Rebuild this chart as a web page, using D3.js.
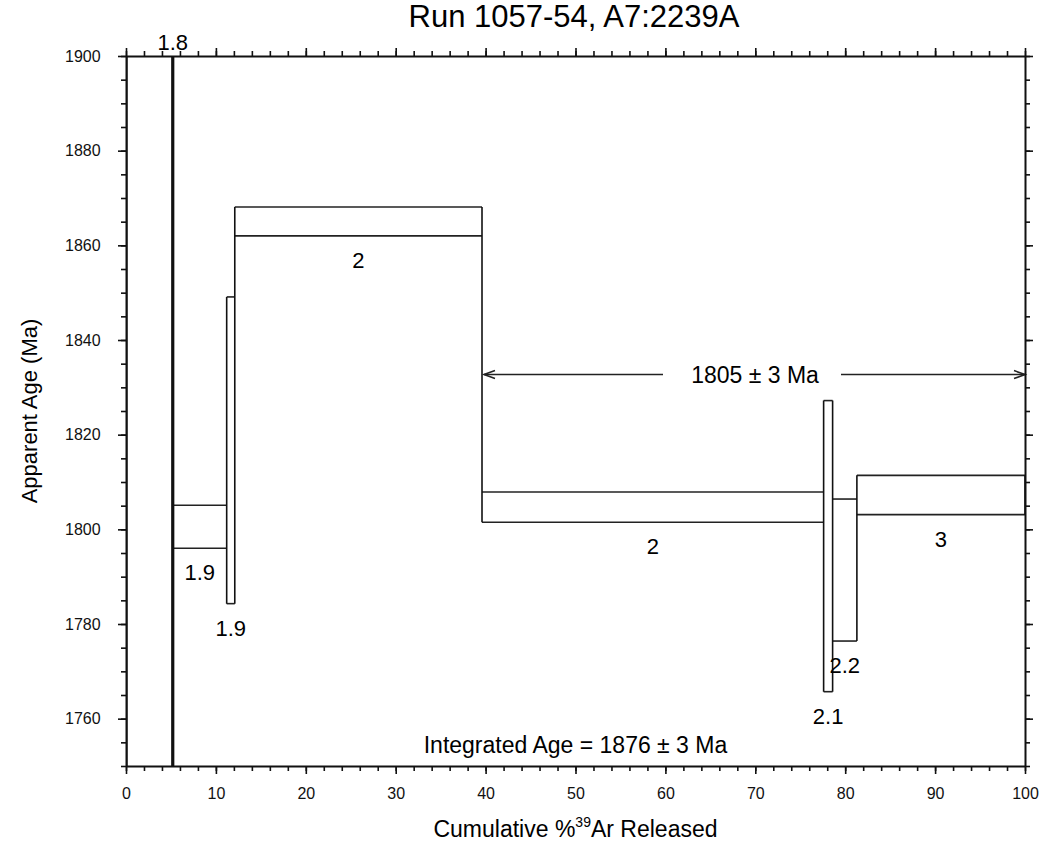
<!DOCTYPE html>
<html>
<head>
<meta charset="utf-8">
<script src="https://cdn.jsdelivr.net/npm/d3@7"></script>
<style>
  body { margin: 0; background: #fff; }
  svg { font-family: "Liberation Sans", Arial, Helvetica, sans-serif; }
  .axis path, .axis line { stroke: #111; }
  .axis text { font-size: 16px; fill: #111; }
</style>
</head>
<body>
<div id="chart-area"></div>
<script>
// step heating spectrum: cumulative % 39Ar at each step boundary
const stepEdges = [0, 5.2, 11.2, 12.1, 39.6, 77.6, 78.6, 81.3, 100]
// apparent age envelope of each step (Ma); the first step is off scale
const ageLow = [1700, 1796.0, 1784.3, 1862.0, 1801.5, 1765.7, 1776.4, 1803.1]
const ageHigh = [1950, 1805.1, 1849.1, 1868.1, 1807.9, 1827.2, 1806.4, 1811.4]
const stepLabels = ["1.8", "1.9", "1.9", "2", "2", "2.1", "2.2", "3"]

// plateau
const plateauFrom = 39.6
const plateauTo = 100
const plateauArrowAge = 1832.7
const plateauText = "1805 ± 3 Ma"
const integratedText = "Integrated Age = 1876 ± 3 Ma"

// ticks
const xMajor = d3.range(0, 101, 10)
const xMinor = d3.range(0, 101, 2)
const yMajor = d3.range(1760, 1901, 20)
const yMinor = d3.range(1750, 1901, 5)

const MARGIN = { LEFT: 126, RIGHT: 17, TOP: 56, BOTTOM: 79 }
const WIDTH = 1042 - MARGIN.LEFT - MARGIN.RIGHT
const HEIGHT = 845 - MARGIN.TOP - MARGIN.BOTTOM

const svg = d3.select("#chart-area").append("svg")
  .attr("width", 1042)
  .attr("height", 845)

const g = svg.append("g")
  .attr("transform", `translate(${MARGIN.LEFT}, ${MARGIN.TOP})`)

const x = d3.scaleLinear().domain([0, 100]).range([0, WIDTH])
const y = d3.scaleLinear().domain([1750, 1900]).range([HEIGHT, 0])

g.append("clipPath").attr("id", "plot-clip")
  .append("rect").attr("width", WIDTH).attr("height", HEIGHT)

const plot = g.append("g").attr("clip-path", "url(#plot-clip)")

// horizontal top / bottom lines of each step
const steps = stepLabels.map((lab, i) => ({
  x0: stepEdges[i], x1: stepEdges[i + 1], lo: ageLow[i], hi: ageHigh[i], label: lab
}))

steps.forEach(s => {
  [s.lo, s.hi].forEach(a => {
    plot.append("line")
      .attr("x1", x(s.x0)).attr("x2", x(s.x1))
      .attr("y1", y(a)).attr("y2", y(a))
      .attr("stroke", "#222").attr("stroke-width", 1.6)
  })
})

// vertical lines at step boundaries, spanning both neighbouring steps
stepEdges.forEach((e, i) => {
  const near = steps.filter((s, j) => j === i - 1 || j === i)
  const lo = d3.min(near, s => s.lo)
  const hi = d3.max(near, s => s.hi)
  const offScale = hi > 1900 || lo < 1750
  plot.append("line")
    .attr("x1", x(e)).attr("x2", x(e))
    .attr("y1", y(lo)).attr("y2", y(hi))
    .attr("stroke", "#111")
    .attr("stroke-width", offScale ? 3.2 : 1.6)
})

// step labels (off-scale step gets its label above the frame)
steps.forEach(s => {
  const top = s.hi > 1900
  g.append("text")
    .attr("x", top ? x(s.x1) : x((s.x0 + s.x1) / 2))
    .attr("y", top ? -6 : y(s.lo) + 32)
    .attr("text-anchor", "middle")
    .attr("font-size", 22)
    .text(s.label)
})

// plateau arrow
const ay = y(plateauArrowAge)
const ax0 = x(plateauFrom) + 2
const ax1 = x(plateauTo)
const tx = 755 - MARGIN.LEFT
g.append("line").attr("x1", ax0).attr("x2", tx - 92).attr("y1", ay).attr("y2", ay)
  .attr("stroke", "#222").attr("stroke-width", 1.6)
g.append("line").attr("x1", tx + 86).attr("x2", ax1).attr("y1", ay).attr("y2", ay)
  .attr("stroke", "#222").attr("stroke-width", 1.6)
g.append("path")
  .attr("d", `M${ax0 + 11},${ay - 4} L${ax0},${ay} L${ax0 + 11},${ay + 4}`)
  .attr("fill", "none").attr("stroke", "#222").attr("stroke-width", 1.6)
g.append("path")
  .attr("d", `M${ax1 - 11},${ay - 4} L${ax1},${ay} L${ax1 - 11},${ay + 4}`)
  .attr("fill", "none").attr("stroke", "#222").attr("stroke-width", 1.6)
g.append("text")
  .attr("x", tx).attr("y", ay + 8)
  .attr("text-anchor", "middle")
  .attr("font-size", 23)
  .text(plateauText)

g.append("text")
  .attr("x", WIDTH / 2).attr("y", HEIGHT - 13)
  .attr("text-anchor", "middle")
  .attr("font-size", 23)
  .text(integratedText)

// axes: minor ticks first, then major ticks with labels
function addAxis(gen, minorVals, majorVals, transform, labels) {
  const gm = g.append("g").attr("class", "axis").attr("transform", transform)
    .call(gen.tickValues(minorVals).tickSize(5).tickSizeOuter(0).tickFormat(""))
  gm.select(".domain").attr("stroke-width", 2)
  gm.selectAll(".tick line").attr("stroke-width", 1.6)
  const gM = g.append("g").attr("class", "axis").attr("transform", transform)
    .call(gen.tickValues(majorVals).tickSize(8).tickSizeOuter(0)
      .tickFormat(labels ? d3.format("d") : ""))
  gM.select(".domain").remove()
  gM.selectAll(".tick line").attr("stroke-width", 1.6)
  return gM
}

const xb = addAxis(d3.axisBottom(x), xMinor, xMajor, `translate(0, ${HEIGHT})`, true)
xb.selectAll(".tick text").attr("dy", "1.35em")
addAxis(d3.axisTop(x), xMinor, xMajor, "translate(0, 0)", false)
const yl = addAxis(d3.axisLeft(y), yMinor, yMajor, "translate(0, 0)", true)
yl.selectAll(".tick text").attr("dx", "-0.9em")
addAxis(d3.axisRight(y), yMinor, yMajor, `translate(${WIDTH}, 0)`, false)

// titles
svg.append("text")
  .attr("x", 574).attr("y", 27)
  .attr("text-anchor", "middle")
  .attr("font-size", 31)
  .text("Run 1057-54, A7:2239A")

const xl = svg.append("text")
  .attr("x", MARGIN.LEFT + WIDTH / 2).attr("y", 837)
  .attr("text-anchor", "middle")
  .attr("font-size", 23)
xl.append("tspan").text("Cumulative %")
xl.append("tspan").attr("font-size", 14).attr("dy", -10).text("39")
xl.append("tspan").attr("dy", 10).text("Ar Released")

svg.append("text")
  .attr("transform", `translate(37, ${MARGIN.TOP + HEIGHT / 2}) rotate(-90)`)
  .attr("text-anchor", "middle")
  .attr("font-size", 22)
  .text("Apparent Age (Ma)")
</script>
</body>
</html>
